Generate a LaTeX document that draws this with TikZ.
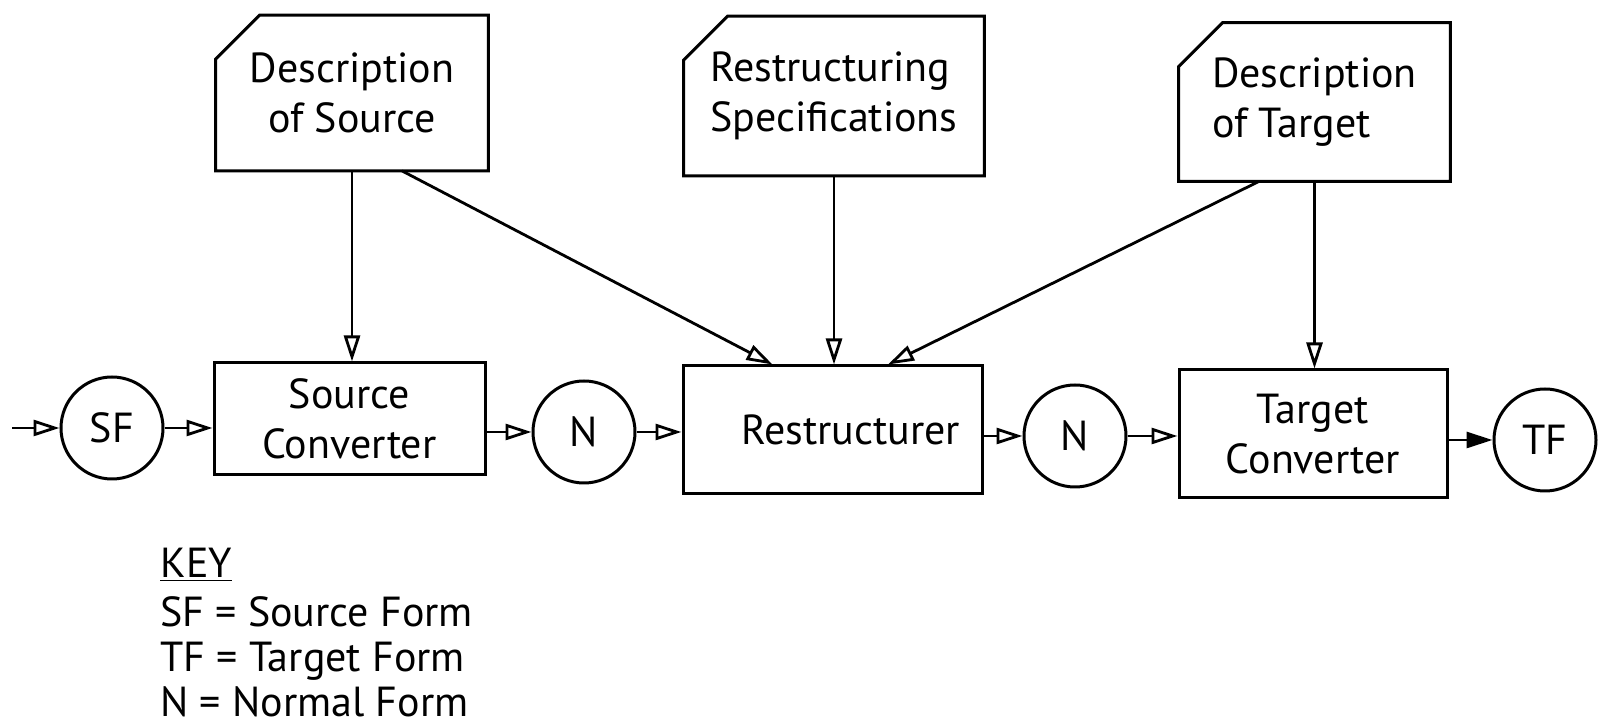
\documentclass[tikz,border=0pt]{standalone}
\usepackage{fontspec}
\setmainfont{PT Sans}
\usetikzlibrary{arrows.meta,calc}
\begin{document}
\begin{tikzpicture}[x=0.5pt,y=-0.5pt,
  every node/.style={font=\fontsize{21}{25}\selectfont, inner sep=0pt},
  procbox/.style={draw, line width=1.5pt, rectangle, align=center},
  form/.style={draw, line width=1.5pt, circle, minimum size=51pt},
  flow/.style={line width=1.4pt, -{Triangle[open,length=13pt,width=8pt]}},
  flowfill/.style={line width=1.4pt, -{Triangle[length=13pt,width=8pt]}}
]
\useasboundingbox (0,0) rectangle (1602,726);

% cards
\node[minimum width=136pt, minimum height=77.5pt, align=center] (c1) at (352,93) {Description\\of Source};
\node[minimum width=150pt, minimum height=79.5pt, align=left] (c2) at (834,96) {Restructuring\\Specifications};
\node[minimum width=135.5pt, minimum height=79pt, align=left] (c3) at (1314.5,102) {Description\\of Target};
\foreach \c in {c1,c2,c3}{
  \draw[line width=1.5pt, line join=miter] ([xshift=22pt]\c.north west) -- (\c.north east) -- (\c.south east) -- (\c.south west) -- ([yshift=-22pt]\c.north west) -- cycle;
}

% process boxes
\node[procbox, minimum width=135.5pt, minimum height=56pt] (SC) at (349.5,419) {Source\\Converter};
\node[procbox, minimum width=149.5pt, minimum height=64pt] (R) at (832.5,430) {\hspace*{18pt}Restructurer};
\node[procbox, minimum width=134pt, minimum height=64pt] (TC) at (1313,434) {Target\\Converter};

% forms
\node[form] (SF) at (112,428) {SF};
\node[form] (N1) at (584,432) {N};
\node[form] (N2) at (1075,436) {N};
\node[form] (TF) at (1545,440) {TF};

\coordinate (in) at (12,428);

% row connectors
\draw[flow] (in) -- (SF);
\draw[flow] (SF) -- (SF -| SC.west);
\draw[flow] (SC.east |- N1) -- (N1);
\draw[flow] (N1) -- (N1 -| R.west);
\draw[flow] (R.east |- N2) -- (N2);
\draw[flow] (N2) -- (N2 -| TC.west);
\draw[flowfill] (TC.east |- TF) -- (TF);

% card connectors
\draw[flow] (c1.south) -- (c1.south |- SC.north);
\draw[flow] (c2.south) -- (c2.south |- R.north);
\draw[flow] (c3.south) -- (c3.south |- TC.north);
\draw[flow] ([xshift=25pt]c1.south) -- ([xshift=-30pt]R.north);
\draw[flow] ([xshift=-27.75pt]c3.south) -- ([xshift=27.75pt]R.north);

% key
\node[anchor=north west, align=left, font=\fontsize{21}{22.5}\selectfont] (key) at (160,548)
  {\underline{KEY}\\[2pt] SF = Source Form\\ TF = Target Form\\ N = Normal Form};
\end{tikzpicture}
\end{document}
